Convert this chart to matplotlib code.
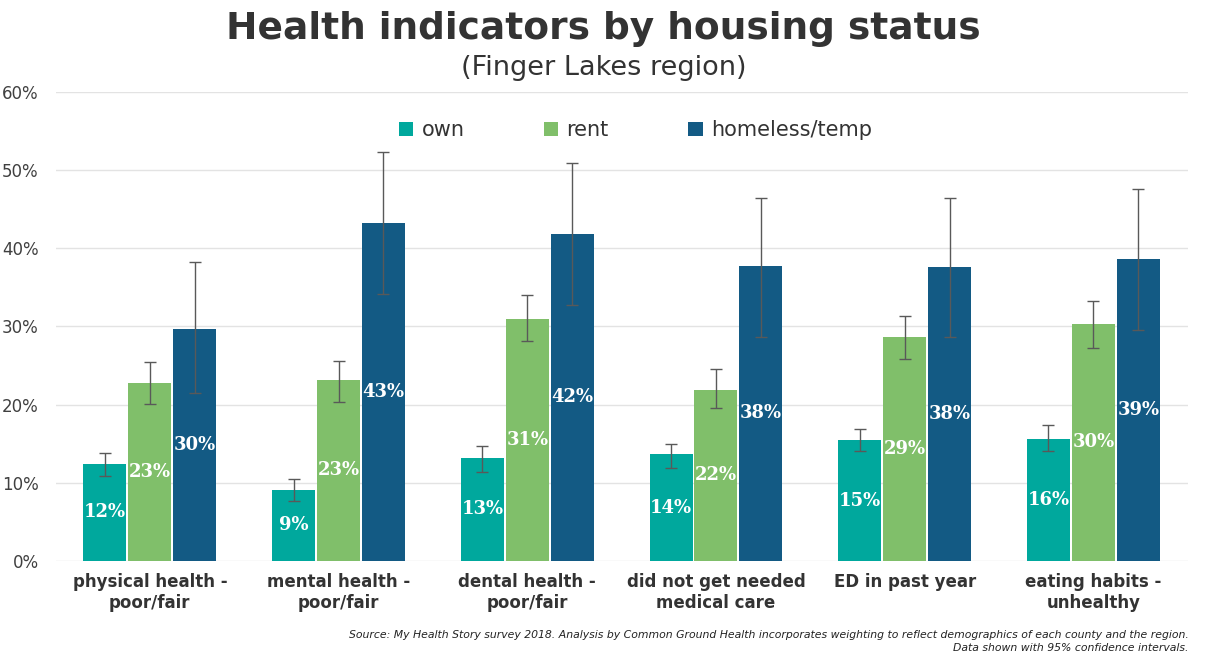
import matplotlib.pyplot as plt
import numpy as np
from matplotlib.ticker import PercentFormatter

# categories and series (percent)
categories = ['physical health -\npoor/fair', 'mental health -\npoor/fair', 'dental health -\npoor/fair',
              'did not get needed\nmedical care', 'ED in past year', 'eating habits -\nunhealthy']
series_names = ['own', 'rent', 'homeless/temp']

own = [12.4, 9.0, 13.2, 13.6, 15.4, 15.6]
own_hi = [13.8, 10.4, 14.7, 14.9, 16.9, 17.4]
own_lo = [10.8, 7.6, 11.4, 11.9, 14.0, 14.1]

rent = [22.8, 23.1, 31.0, 21.9, 28.6, 30.3]
rent_hi = [25.5, 25.6, 34.0, 24.5, 31.4, 33.2]
rent_lo = [20.1, 20.3, 28.1, 19.5, 25.8, 27.3]

homeless = [29.7, 43.3, 41.9, 37.7, 37.6, 38.6]
homeless_hi = [38.2, 52.3, 51.0, 46.5, 46.4, 47.6]
homeless_lo = [21.5, 34.1, 32.8, 28.7, 28.7, 29.5]

colors = ['#00A89D', '#80BF6A', '#135A84']

plt.rcParams['font.family'] = ['DejaVu Sans']

fig = plt.figure(figsize=(12.07, 6.69), dpi=100)
ax = fig.add_axes([0.046, 0.162, 0.938, 0.70])

x = np.arange(len(categories))
width = 0.228
step = 0.238

all_series = [(own, own_lo, own_hi), (rent, rent_lo, rent_hi), (homeless, homeless_lo, homeless_hi)]
for i, (vals, lo, hi) in enumerate(all_series):
    vals = np.array(vals)
    err = [vals - np.array(lo), np.array(hi) - vals]
    pos = x + (i - 1) * step
    bars = ax.bar(pos, vals, width, color=colors[i], label=series_names[i], zorder=2)
    ax.errorbar(pos, vals, yerr=err, fmt='none', ecolor='#595959', elinewidth=1,
                capsize=4, capthick=1, zorder=3)
    for p, v in zip(pos, vals):
        ax.text(p, v / 2, f'{v:.0f}%', ha='center', va='center', color='white',
                fontsize=13, fontweight='bold', family='DejaVu Serif', zorder=4)

ax.set_xlim(-0.5, len(categories) - 0.5)
ax.set_ylim(0, 60)
ax.set_yticks(np.arange(0, 61, 10))
ax.yaxis.set_major_formatter(PercentFormatter(decimals=0))
ax.grid(axis='y', color='#e3e3e3', linewidth=1, zorder=0)
for s in ax.spines.values():
    s.set_visible(False)
ax.tick_params(axis='both', length=0)
ax.tick_params(axis='y', labelsize=12, labelcolor='#404040', pad=12)
ax.set_xticks(x)
ax.set_xticklabels(categories, fontsize=12, fontweight='bold', color='#333333')
ax.tick_params(axis='x', pad=9)

ax.legend(loc='upper center', bbox_to_anchor=(0.512, 0.98), ncol=3, frameon=False,
          fontsize=15, handlelength=0.7, handleheight=0.7, columnspacing=3.8, handletextpad=0.4,
          labelcolor='#333333')

fig.text(0.5, 0.956, 'Health indicators by housing status', ha='center', va='center',
         fontsize=27, fontweight='bold', color='#333333', family=['DejaVu Sans Condensed', 'DejaVu Sans'])
fig.text(0.5, 0.899, '(Finger Lakes region)', ha='center', va='center', fontsize=19.5, color='#333333',
         family=['DejaVu Sans Condensed', 'DejaVu Sans'])

fig.text(0.985, 0.041, 'Source: My Health Story survey 2018. Analysis by Common Ground Health incorporates '
         'weighting to reflect demographics of each county and the region.\nData shown with 95% confidence intervals.',
         ha='right', va='center', fontsize=7.8, style='italic', color='#222222', linespacing=1.45,
         family=['DejaVu Sans Condensed', 'DejaVu Sans'])

fig.savefig('out.png', dpi=100)
